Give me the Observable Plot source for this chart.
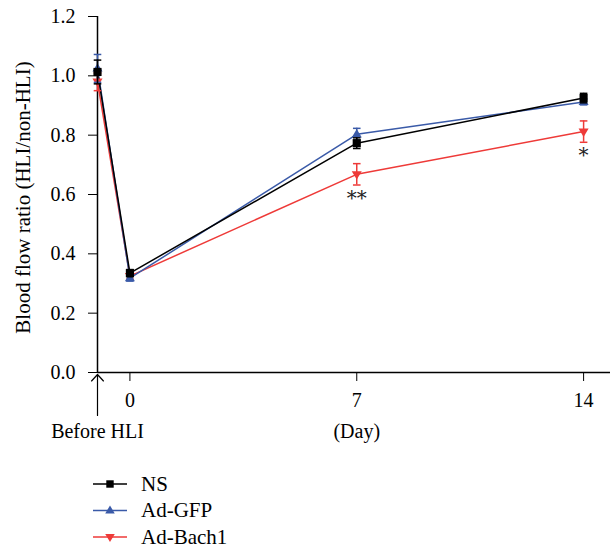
<!DOCTYPE html>
<html><head><meta charset="utf-8">
<script src="https://cdn.jsdelivr.net/npm/d3@7"></script>
<script src="https://cdn.jsdelivr.net/npm/@observablehq/plot@0.6"></script>
<style>body{margin:0;background:#fff;} svg{display:block;}</style>
</head><body><div id="chart"></div><div id="legend"></div><script>
// ---- data ----
const days = [-1, 0, 7, 14];               // -1 = "Before HLI"
const dayTicks = [0, 7, 14];
const yTicks = [0, 0.2, 0.4, 0.6, 0.8, 1.0, 1.2];
const seriesNames = ["NS", "Ad-GFP", "Ad-Bach1"];
const nsMean   = [1.013, 0.335, 0.773, 0.925];
const nsErr    = [0.040, 0.012, 0.018, 0.016];
const gfpMean  = [1.025, 0.318, 0.803, 0.912];
const gfpErr   = [0.047, 0.010, 0.020, 0.010];
const bachMean = [0.980, 0.325, 0.668, 0.812];
const bachErr  = [0.030, 0.010, 0.036, 0.036];
const sigDays   = [7, 14];
const sigLabels = ["**", "*"];
const beforeNote = [{day: -1, label: "Before HLI"}];
const dayNote = [{day: 7, label: "(Day)"}];
const yLabel = "Blood flow ratio (HLI/non-HLI)";
const colors = ["#000000", "#3a5aa8", "#ee3a38"];

// ---- build tables ----
const means = [nsMean, gfpMean, bachMean];
const errs = [nsErr, gfpErr, bachErr];
const series = seriesNames.map((name, s) => ({
  name, color: colors[s],
  rows: days.map((d, i) => ({series: name, day: d, mean: means[s][i], lo: means[s][i] - errs[s][i], hi: means[s][i] + errs[s][i]}))
}));
const sig = sigDays.map((d, i) => {
  const r = series[2].rows.find(r => r.day === d);
  return {day: d, label: sigLabels[i], y: r.lo};
});

// ---- symbols ----
const capSymbol = {draw(ctx) { ctx.moveTo(-3.8, 0); ctx.lineTo(3.8, 0); }};
const triDown = {draw(ctx, size) {
  const r = Math.sqrt(size / Math.PI) * 1.15;
  ctx.moveTo(0, r); ctx.lineTo(-r * 0.95, -r * 0.6); ctx.lineTo(r * 0.95, -r * 0.6); ctx.closePath();
}};
const triUp = {draw(ctx, size) {
  const r = Math.sqrt(size / Math.PI) * 1.15;
  ctx.moveTo(0, -r); ctx.lineTo(-r * 0.95, r * 0.6); ctx.lineTo(r * 0.95, r * 0.6); ctx.closePath();
}};
const symbols = ["square", triUp, triDown];

const W = 610, H = 450, mTop = 16, mBottom = 78, mLeft = 97;
const pxPerUnit = (H - mTop - mBottom) / 1.2;
const arrowData = [{day: -1, y1: -43 / pxPerUnit, y2: -2 / pxPerUnit}];

const font = "'Liberation Serif', 'Times New Roman', serif";
const order = [2, 1, 0];
const marks = [
  Plot.ruleY([0], {stroke: "#000", strokeWidth: 1.5}),
  Plot.ruleX([days[0]], {stroke: "#000", strokeWidth: 1.5}),
];
for (const s of order) {
  const S = series[s];
  marks.push(Plot.line(S.rows, {x: "day", y: "mean", stroke: S.color, strokeWidth: 1.5}));
}
for (const s of order) {
  const S = series[s];
  marks.push(
    Plot.ruleX(S.rows, {x: "day", y1: "lo", y2: "hi", stroke: S.color, strokeWidth: 1.5}),
    Plot.dot(S.rows, {x: "day", y: "lo", symbol: capSymbol, fill: "none", stroke: S.color, strokeWidth: 1.5}),
    Plot.dot(S.rows, {x: "day", y: "hi", symbol: capSymbol, fill: "none", stroke: S.color, strokeWidth: 1.5}),
    Plot.dot(S.rows, {x: "day", y: "mean", symbol: symbols[s], fill: S.color, stroke: "none", r: 4.6})
  );
}
marks.push(
  Plot.text(sig, {x: "day", y: "y", text: "label", lineAnchor: "top", dy: 6, fontSize: 20, fontFamily: "'DejaVu Serif', serif", fill: "#222"}),
  Plot.text(beforeNote, {x: "day", text: "label", frameAnchor: "bottom", lineAnchor: "middle", dy: 59, fontSize: 20}),
  Plot.text(dayNote, {x: "day", text: "label", frameAnchor: "bottom", lineAnchor: "middle", dy: 59, fontSize: 20}),
  Plot.arrow(arrowData, {x1: "day", x2: "day", y1: "y1", y2: "y2", stroke: "#000", strokeWidth: 1.2, headLength: 11, headAngle: 85}),
  Plot.text([yLabel], {text: d => d, frameAnchor: "left", textAnchor: "middle", rotate: -90, dx: -74, dy: 3, fontSize: 21})
);

const chart = Plot.plot({
  width: W, height: H,
  marginTop: mTop, marginBottom: mBottom, marginLeft: mLeft, marginRight: 0,
  style: {fontFamily: font, fontSize: "20px", color: "#000", background: "#fff"},
  x: {domain: [-1, 14.83], ticks: dayTicks, tickFormat: d => String(d), tickSize: 9, tickPadding: 11, label: null},
  y: {domain: [0, 1.2], ticks: yTicks, tickFormat: d3.format(".1f"), tickSize: 9, tickPadding: 13, label: null},
  marks
});
document.getElementById("chart").appendChild(chart);

// ---- legend ----
const lg = d3.select("#legend").append("svg").attr("width", W).attr("height", 102);
const rowY = [34, 60.5, 87];
const lgSym = [d3.symbol(d3.symbolSquare, 55), d3.symbol(triUp, 60), d3.symbol(triDown, 60)];
series.forEach((S, i) => {
  const g = lg.append("g").attr("transform", `translate(0,${rowY[i]})`);
  g.append("line").attr("x1", 93).attr("x2", 127).attr("stroke", S.color).attr("stroke-width", 1.5);
  g.append("path").attr("d", lgSym[i]()).attr("transform", "translate(110,0)").attr("fill", S.color);
  g.append("text").attr("x", 141).attr("y", 6.5).attr("font-family", font).attr("font-size", 21).text(S.name);
});
</script></body></html>
